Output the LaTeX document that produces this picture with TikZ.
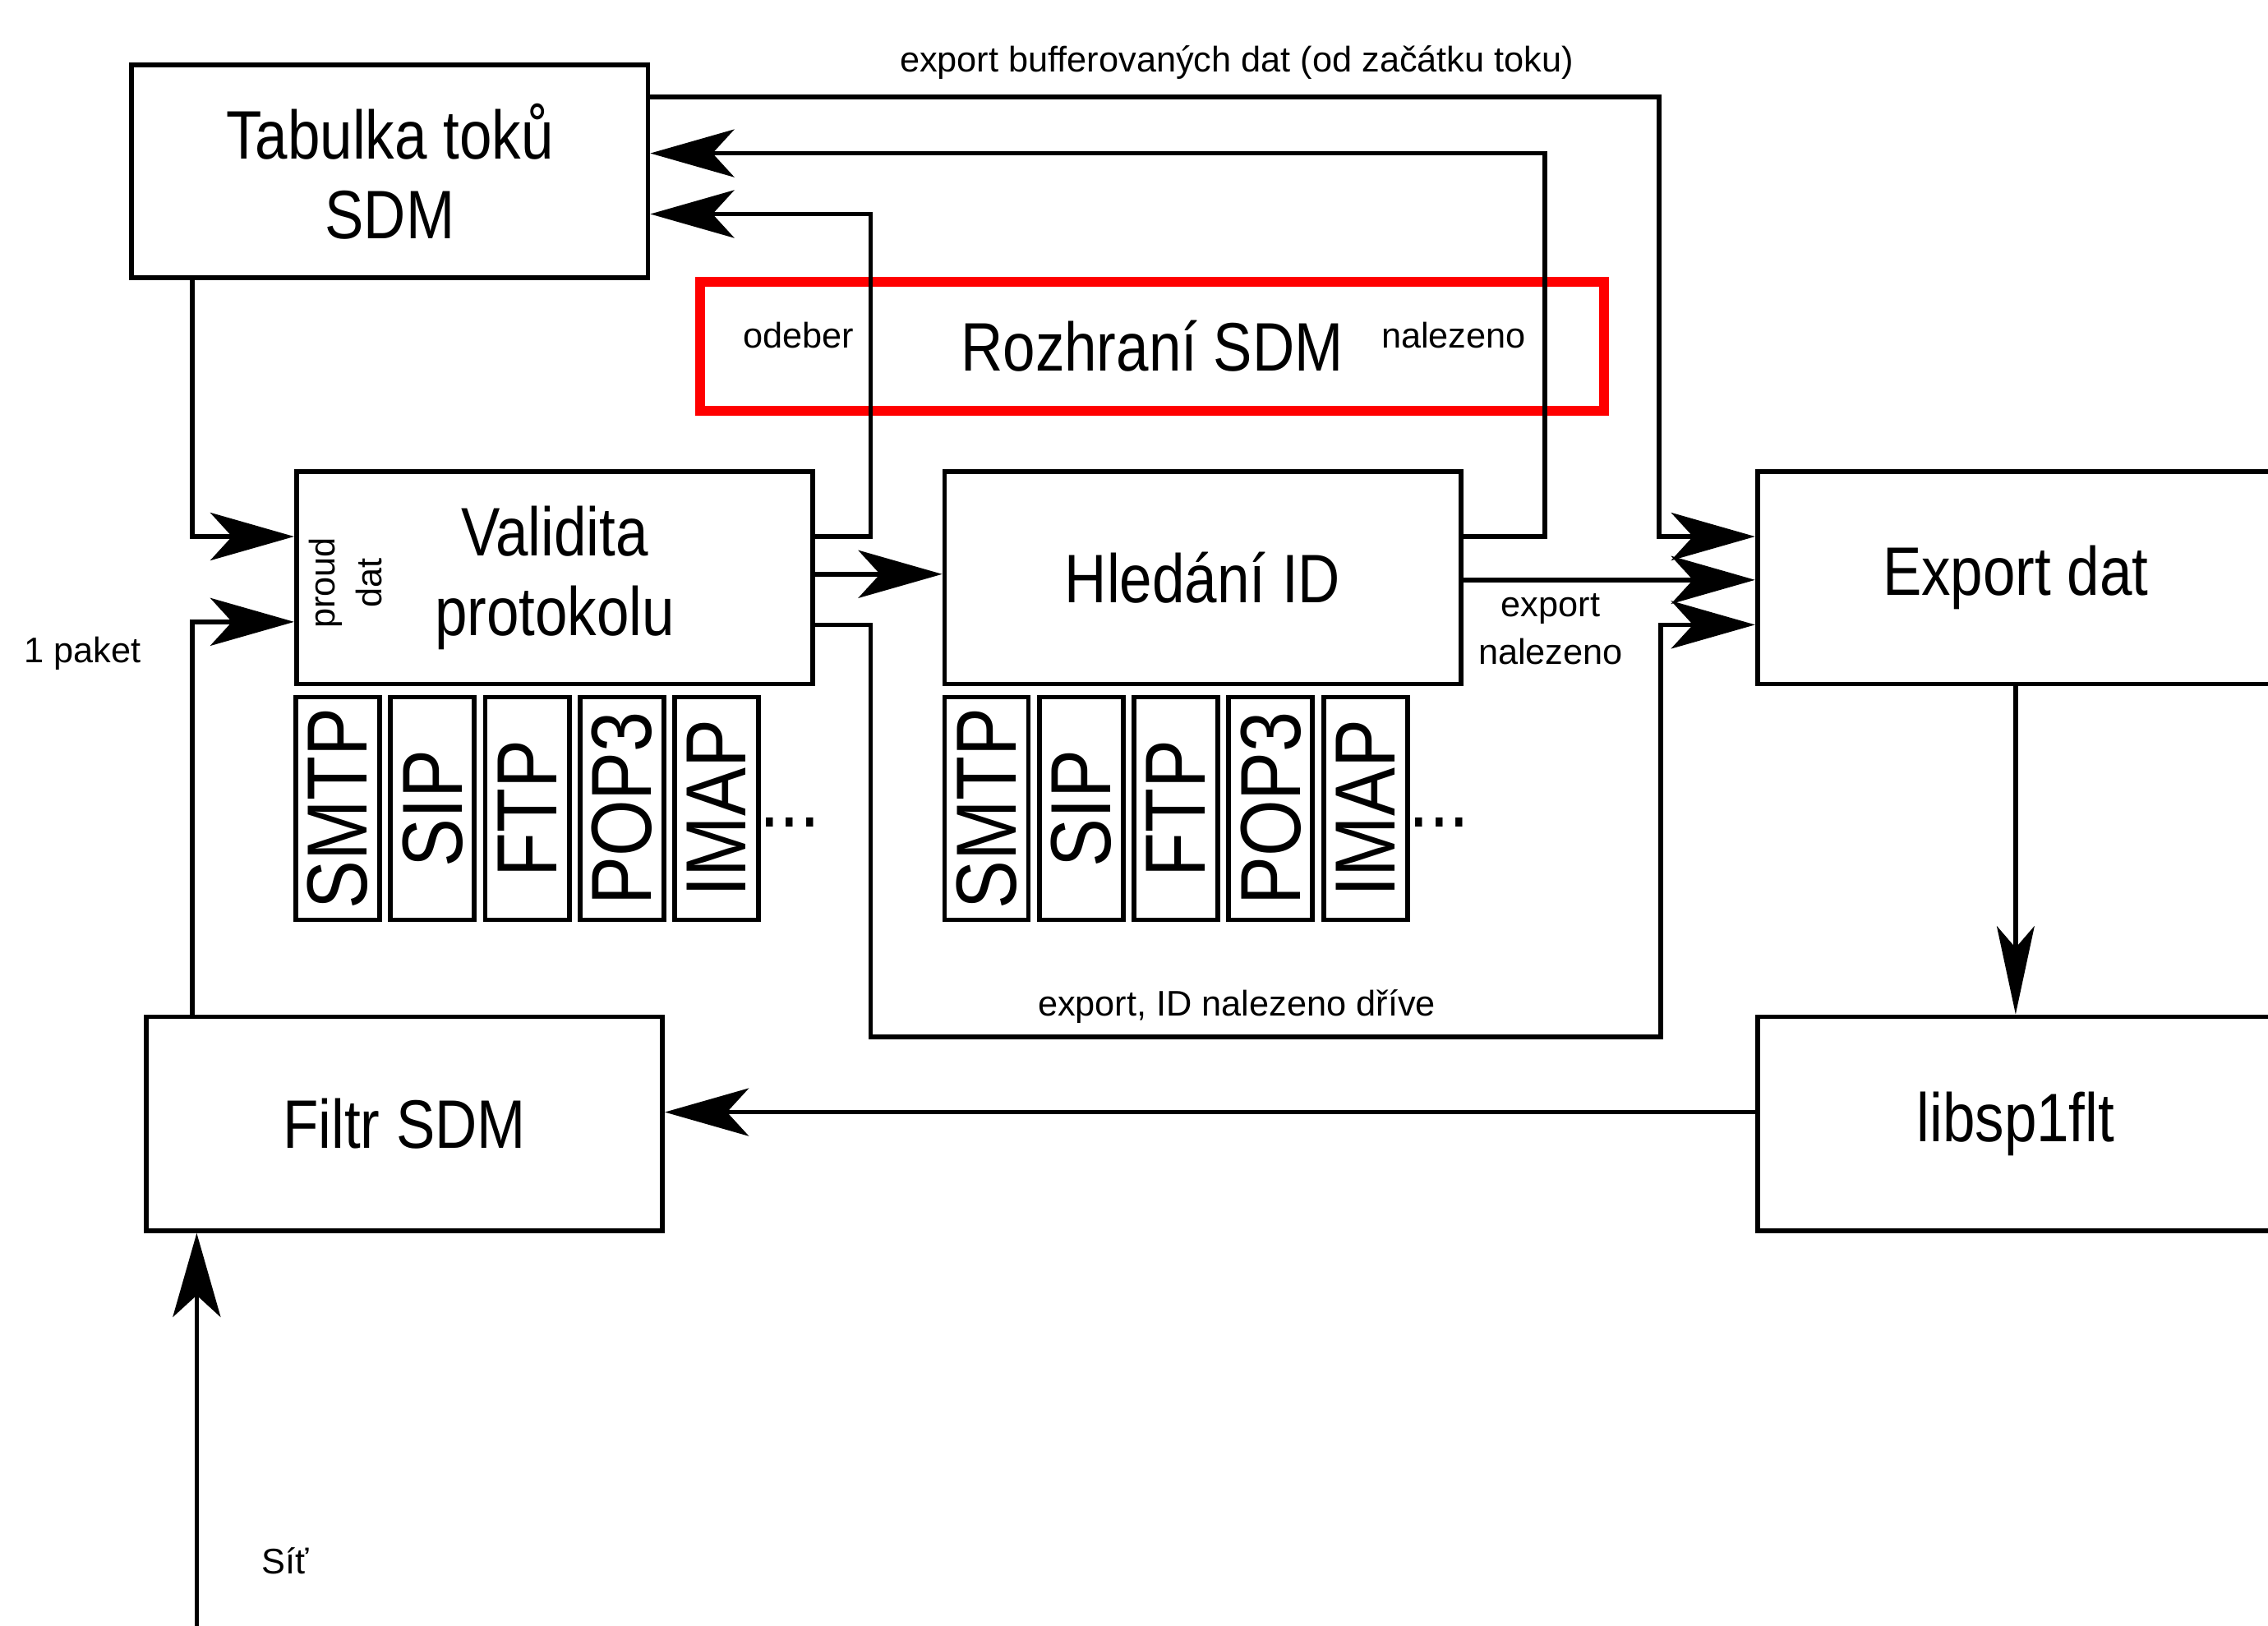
\documentclass[tikz,border=0pt]{standalone}
\usepackage{fontspec}
\setmainfont{Liberation Sans}
\newfontfamily\condfont[FakeStretch=0.85]{Liberation Sans}
\usetikzlibrary{arrows.meta}

\tikzset{
  big/.style={font=\condfont\fontsize{27}{31.5}\selectfont, align=center},
  proto/.style={font=\condfont\fontsize{33.6}{40}\selectfont},
  small/.style={font=\fontsize{14}{18.5}\selectfont, align=center, inner sep=0pt},
  box/.style={draw, line width=0.066cm, minimum width=7.14cm,
              minimum height=2.94cm, inner sep=0pt, big},
  protobox/.style={draw, line width=0.066cm, rotate=90, minimum width=3.08cm,
                   minimum height=1.16cm, inner sep=0pt, proto},
  conn/.style={line width=0.064cm},
  arr/.style={conn, -{Stealth[length=1.16cm, width=0.66cm, inset=0.3cm]}},
  arrnarrow/.style={conn, -{Stealth[length=1.22cm, width=0.52cm, inset=0.3cm]}},
}

\begin{document}
\begin{tikzpicture}[x=0.02cm, y=-0.02cm]
\useasboundingbox (0,0) rectangle (1568,1124);
\clip (0,0) rectangle (1568,1124);

% interface frame
\node[draw=red, line width=0.14cm, minimum width=12.5cm, minimum height=1.78cm,
      inner sep=0pt, big] (iface) at (796.5,239.5) {Rozhraní SDM};
\node[small] (odeber) at (552,232) {odeber};
\node[small] (nalez) at (1005,232) {nalezeno};

% main blocks
\node[box] (tab)  at (269.5,118.5) {Tabulka toků\\SDM};
\node[box] (val)  at (383.5,399.5) {Validita\\protokolu};
\node[box] (hl)   at (831.5,399.5) {Hledání ID};
\node[box] (exp)  at (1393.5,399.5) {Export dat};
\node[box, minimum height=2.96cm] (filt) at (279.5,777) {Filtr SDM};
\node[box, minimum height=2.96cm] (lib)  at (1393.5,777) {libsp1flt};

\node[small, rotate=90] (proud) at (239,403) {proud\\dat};

% protocol modules
\foreach \p [count=\i from 0] in {SMTP,SIP,FTP,POP3,IMAP} {
  \node[protobox] (va\p) at (233.5+65.5*\i,559) {\p};
  \node[protobox] (hl\p) at (682+65.5*\i,559) {\p};
}
\node[proto, anchor=base, inner sep=0pt] (dotsva) at (546,572) {...};
\node[proto, anchor=base, inner sep=0pt] (dotshl) at (995,572) {...};

% levels and columns used by the connectors
\coordinate (y67)  at (0,67);
\coordinate (y106) at (0,106);
\coordinate (y148) at (0,148);
\coordinate (y371) at (0,371);
\coordinate (y397) at (0,397);
\coordinate (y401) at (0,401);
\coordinate (y430) at (0,430);
\coordinate (y432) at (0,432);
\coordinate (y717) at (0,717);
\coordinate (y769) at (0,769);
\coordinate (xleft) at (133,0);
\coordinate (xval) at (602,0);
\coordinate (xhl) at (1068,0);
\coordinate (xbuf) at (1147,0);
\coordinate (xold) at (1148,0);
\coordinate (net) at (136,1140);

% connectors
\draw[arr] (tab.east |- y67) -| (xbuf |- y371) -- (exp.west |- y371);
\draw[arr] (hl.east |- y371) -| (xhl |- y106) -- (tab.east |- y106);
\draw[arr] (val.east |- y371) -| (xval |- y148) -- (tab.east |- y148);
\draw[arr] (val.east |- y397) -- (hl.west |- y397);
\draw[arr] (val.east |- y432) -| (xval |- y717) -| (xold |- y432) -- (exp.west |- y432);
\draw[arr] (hl.east |- y401) -- (exp.west |- y401);
\draw[arr] (tab.south -| xleft) |- (val.west |- y371);
\draw[arr] (filt.north -| xleft) |- (val.west |- y430);
\draw[arrnarrow] (exp.south) -- (lib.north);
\draw[arr] (lib.west |- y769) -- (filt.east |- y769);
\draw[arr] (net) -- (filt.south -| net);

% connector labels
\node[small] (lbuf) at (855,43) {export bufferovaných dat (od začátku toku)};
\node[small] (lexp) at (1072,435) {export\\nalezeno};
\node[small] (lold) at (855,696) {export, ID nalezeno dříve};
\node[small] (lpkt) at (57,452) {1 paket};
\node[small] (lnet) at (197,1079) {Síť};
\end{tikzpicture}
\end{document}
